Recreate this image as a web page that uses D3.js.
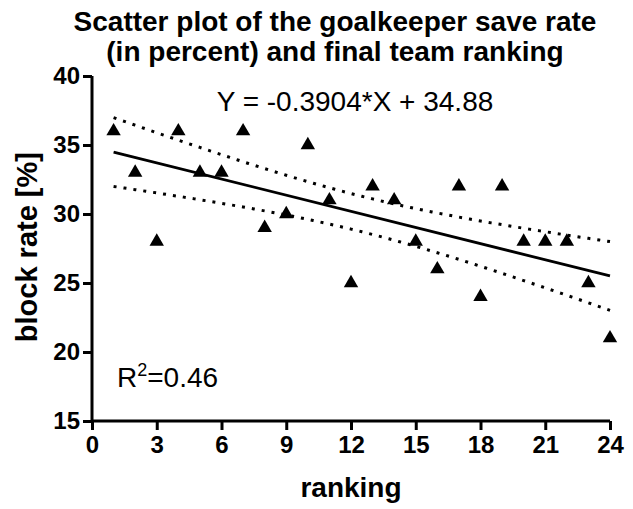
<!DOCTYPE html>
<html>
<head>
<meta charset="utf-8">
<script src="https://cdn.jsdelivr.net/npm/d3@7"></script>
<style>
  body { margin: 0; background: #fff; }
  text { font-family: "Liberation Sans", Arial, sans-serif; fill: #000; }
</style>
</head>
<body>
<svg id="chart"></svg>
<script>
// data
var ranking = [1, 2, 3, 4, 5, 6, 7, 8, 9, 10, 11, 12, 13, 14, 15, 16, 17, 18, 19, 20, 21, 22, 23, 24];
var blockRate = [36, 33, 28, 36, 33, 33, 36, 29, 30, 35, 31, 25, 32, 31, 28, 26, 32, 24, 32, 28, 28, 28, 25, 21];
var xTicks = [0, 3, 6, 9, 12, 15, 18, 21, 24];
var yTicks = [15, 20, 25, 30, 35, 40];
var titleLines = ["Scatter plot of the goalkeeper save rate", "(in percent) and final team ranking"];
var equationText = "Y = -0.3904*X + 34.88";

var W = 633, H = 509;
var svg = d3.select("#chart").attr("width", W).attr("height", H);

var x = d3.scaleLinear().domain([0, 24]).range([92, 610]);
var y = d3.scaleLinear().domain([15, 40]).range([421, 76]);

// least squares fit + 95% confidence band
var n = ranking.length;
var mx = d3.mean(ranking), my = d3.mean(blockRate);
var sxx = d3.sum(ranking, function (d) { return (d - mx) * (d - mx); });
var sxy = d3.sum(ranking, function (d, i) { return (d - mx) * (blockRate[i] - my); });
var slope = sxy / sxx, intercept = my - slope * mx;
var ssr = d3.sum(ranking, function (d, i) { var r = blockRate[i] - (intercept + slope * d); return r * r; });
var s = Math.sqrt(ssr / (n - 2));
var tcrit = 2.074; // t(0.975, df=22)

var xs = d3.range(1, 24.001, 0.25);
function band(sign) {
    return xs.map(function (v) {
        var se = s * Math.sqrt(1 / n + (v - mx) * (v - mx) / sxx);
        return [v, intercept + slope * v + sign * tcrit * se];
    });
}
var line = d3.line().x(function (d) { return x(d[0]); }).y(function (d) { return y(d[1]); });

// title
svg.append("text")
    .attr("x", 335).attr("y", 31)
    .attr("text-anchor", "middle")
    .style("font-size", "28px").style("font-weight", "bold")
    .selectAll("tspan").data(titleLines).enter().append("tspan")
    .attr("x", 335).attr("dy", function (d, i) { return i ? 30 : 0; })
    .text(function (d) { return d; });

// axes
var xAxis = svg.append("g")
    .attr("transform", "translate(0," + y(15) + ")")
    .call(d3.axisBottom(x).tickValues(xTicks).tickSize(9).tickPadding(6));
var yAxis = svg.append("g")
    .attr("transform", "translate(" + x(0) + ",0)")
    .call(d3.axisLeft(y).tickValues(yTicks).tickSize(9).tickPadding(3));
[xAxis, yAxis].forEach(function (a) {
    a.select(".domain").attr("stroke", "#000").attr("stroke-width", 3);
    a.selectAll(".tick line").attr("stroke", "#000").attr("stroke-width", 3);
    a.selectAll(".tick text")
        .style("font-family", "'Liberation Sans', Arial, sans-serif")
        .style("font-size", "24px").style("font-weight", "bold");
});
xAxis.select(".domain").attr("d", "M" + x(0) + ",0H" + x(24));
yAxis.select(".domain").attr("d", "M0," + y(15) + "V" + y(40));

// axis titles
svg.append("text")
    .attr("x", x(12)).attr("y", 497)
    .attr("text-anchor", "middle")
    .style("font-size", "28px").style("font-weight", "bold")
    .text("ranking");
svg.append("text")
    .attr("transform", "translate(37," + y(27.6) + ") rotate(-90)")
    .attr("text-anchor", "middle")
    .style("font-size", "29px").style("font-weight", "bold")
    .text("block rate [%]");

// confidence band
[1, -1].forEach(function (sg) {
    svg.append("path")
        .attr("d", line(band(sg)))
        .attr("fill", "none").attr("stroke", "#000")
        .attr("stroke-width", 3).attr("stroke-dasharray", "3,7");
});

// regression line
svg.append("path")
    .attr("d", line([[1, intercept + slope * 1], [24, intercept + slope * 24]]))
    .attr("fill", "none").attr("stroke", "#000").attr("stroke-width", 2.8);

// points
svg.selectAll(".pt").data(ranking).enter().append("path")
    .attr("class", "pt")
    .attr("d", d3.symbol().type(d3.symbolTriangle).size(90))
    .attr("transform", function (d, i) { return "translate(" + x(d) + "," + y(blockRate[i]) + ")"; })
    .attr("fill", "#000");

// annotations
svg.append("text")
    .attr("x", 355).attr("y", 111)
    .attr("text-anchor", "middle")
    .style("font-size", "28px")
    .text(equationText);
var r2 = svg.append("text")
    .attr("x", 117).attr("y", 387)
    .style("font-size", "28px");
r2.append("tspan").text("R");
r2.append("tspan").attr("dy", -11).style("font-size", "18px").text("2");
r2.append("tspan").attr("dy", 11).text("=0.46");
</script>
</body>
</html>
